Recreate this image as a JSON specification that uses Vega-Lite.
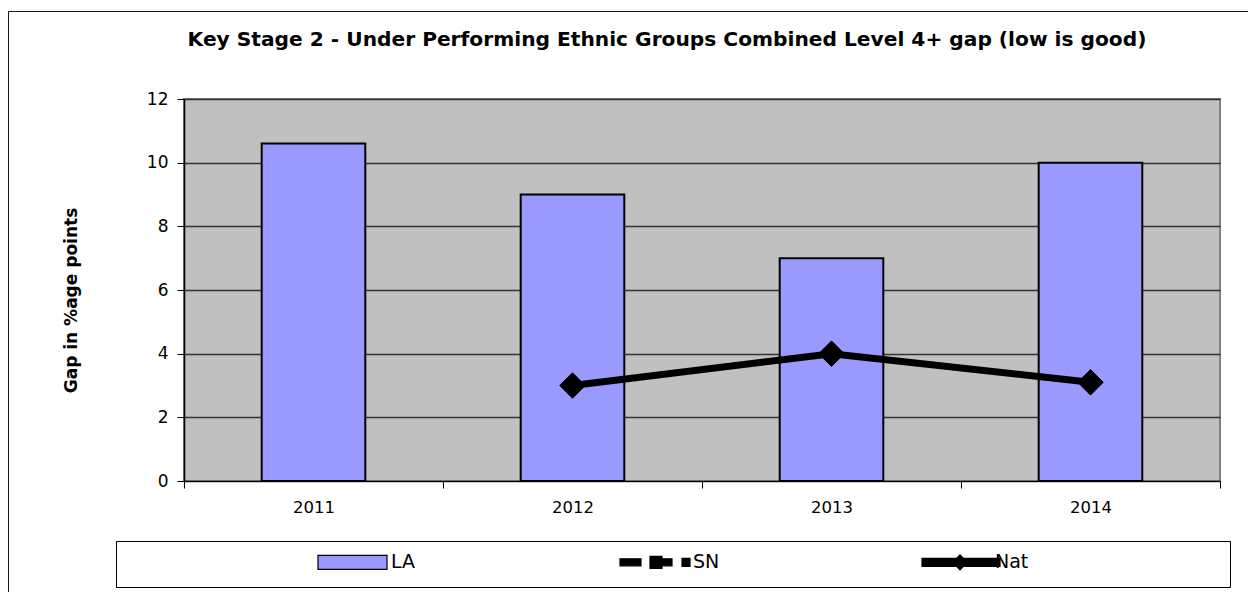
{
  "$schema": "https://vega.github.io/schema/vega-lite/v6.json",
  "width": 1036,
  "height": 382,
  "autosize": {"type": "none"},
  "padding": {"left": 184, "top": 99, "right": 28, "bottom": 111},
  "background": "white",
  "title": {
    "text": "Key Stage 2 - Under Performing Ethnic Groups Combined Level 4+ gap (low is good)",
    "font": "DejaVu Sans", "fontSize": 20.2, "fontWeight": "bold", "color": "black",
    "anchor": "middle", "dx": -35, "offset": 0, "dy": 40
  },
  "data": {
    "values": [
      {"year": "2011", "series": "LA", "value": 10.6},
      {"year": "2012", "series": "LA", "value": 9.0},
      {"year": "2013", "series": "LA", "value": 7.0},
      {"year": "2014", "series": "LA", "value": 10.0},
      {"year": "2012", "series": "Nat", "value": 3.0},
      {"year": "2013", "series": "Nat", "value": 4.0},
      {"year": "2014", "series": "Nat", "value": 3.1}
    ]
  },
  "encoding": {
    "x": {
      "field": "year", "type": "ordinal",
      "scale": {"paddingInner": 0, "paddingOuter": 0},
      "axis": {
        "title": null, "labelAngle": 0, "tickBand": "extent", "tickSize": 7,
        "tickColor": "black", "tickWidth": 1, "domainColor": "black", "domainWidth": 1,
        "labelFont": "DejaVu Sans", "labelFontSize": 16.5, "labelColor": "black",
        "labelPadding": 11, "grid": false
      }
    },
    "y": {
      "field": "value", "type": "quantitative",
      "scale": {"domain": [0, 12], "nice": false},
      "axis": {
        "title": "Gap in %age points", "values": [0, 2, 4, 6, 8, 10, 12],
        "grid": true, "gridColor": "#333333", "gridWidth": 1.5,
        "tickSize": 7, "tickColor": "black", "domainColor": "black", "domainWidth": 1.5,
        "labelFont": "DejaVu Sans", "labelFontSize": 17, "labelColor": "black", "labelPadding": 9,
        "titleFont": "DejaVu Sans", "titleFontSize": 17, "titleFontWeight": "bold", "titleColor": "black",
        "titlePadding": 66, "titleY": 201
      }
    }
  },
  "layer": [
    {
      "transform": [{"filter": "datum.series === 'LA'"}],
      "mark": {"type": "bar", "fill": "#9999FF", "stroke": "black", "strokeWidth": 2, "width": {"band": 0.4}}
    },
    {
      "transform": [{"filter": "datum.series === 'Nat'"}],
      "mark": {"type": "line", "stroke": "black", "strokeWidth": 7}
    },
    {
      "transform": [{"filter": "datum.series === 'Nat'"}],
      "mark": {"type": "point", "shape": "diamond", "filled": true, "fill": "black", "stroke": "black", "strokeWidth": 1, "size": 650, "opacity": 1}
    },
    {
      "mark": {"type": "point", "filled": true, "opacity": 0},
      "encoding": {
        "color": {
          "field": "series", "type": "nominal",
          "scale": {"domain": ["LA", "SN", "Nat"], "range": ["#9999FF", "black", "black"]},
          "legend": {
            "orient": "none", "legendX": -68, "legendY": 442, "direction": "horizontal",
            "title": " ", "titleOrient": "left", "titleFontSize": 1, "titlePadding": 191,
            "strokeColor": "black", "padding": 10, "fillColor": "white",
            "symbolSize": 400, "symbolOffset": 25, "symbolStrokeColor": "black", "symbolStrokeWidth": 1, "symbolOpacity": 1,
            "labelFont": "DejaVu Sans", "labelFontSize": 19, "labelColor": "black", "labelOffset": 27,
            "columnPadding": 1, "gridAlign": "all",
            "encode": {"symbols": {"update": {"opacity": {"value": 1}, "stroke": {"value": "black"}, "strokeWidth": {"value": 1.2}}}}
          }
        },
        "shape": {
          "field": "series", "type": "nominal",
          "scale": {
            "domain": ["LA", "SN", "Nat"],
            "range": [
              "M-3.5,-0.7H3.4V0.7H-3.5Z M26,-1.2 M26,1.2",
              "M-3.5,-0.35H-1.4V0.35H-3.5Z M-0.5,-0.6H0.7V-0.35H1.7V0.35H0.7V0.6H-0.5Z M2.7,-0.4H3.5V0.4H2.7Z M26,-1.2 M26,1.2",
              "M-3.5,-0.4H-0.05L0.3,-0.75L0.65,-0.4H4.3V0.4H0.65L0.3,0.75L-0.05,0.4H-3.5Z M26,-1.2 M26,1.2"
            ]
          },
          "legend": {
            "orient": "none", "legendX": -68, "legendY": 442, "direction": "horizontal",
            "title": " ", "titleOrient": "left", "titleFontSize": 1, "titlePadding": 191,
            "strokeColor": "black", "padding": 10, "fillColor": "white",
            "symbolSize": 400, "symbolOffset": 25, "symbolStrokeColor": "black", "symbolStrokeWidth": 1, "symbolOpacity": 1,
            "labelFont": "DejaVu Sans", "labelFontSize": 19, "labelColor": "black", "labelOffset": 27,
            "columnPadding": 1, "gridAlign": "all",
            "encode": {"symbols": {"update": {"opacity": {"value": 1}, "stroke": {"value": "black"}, "strokeWidth": {"value": 1.2}}}}
          }
        },
        "size": {
          "field": "year", "type": "ordinal",
          "legend": {
            "orient": "none", "legendX": -176, "legendY": -88, "padding": 680,
            "strokeColor": "#1a1a1a", "title": null, "values": ["2011"],
            "labelExpr": "''", "symbolOpacity": 0, "labelOpacity": 0
          }
        }
      }
    }
  ],
  "config": {
    "view": {"fill": "#C0C0C0", "stroke": "#808080", "strokeWidth": 2},
    "font": "DejaVu Sans"
  }
}
